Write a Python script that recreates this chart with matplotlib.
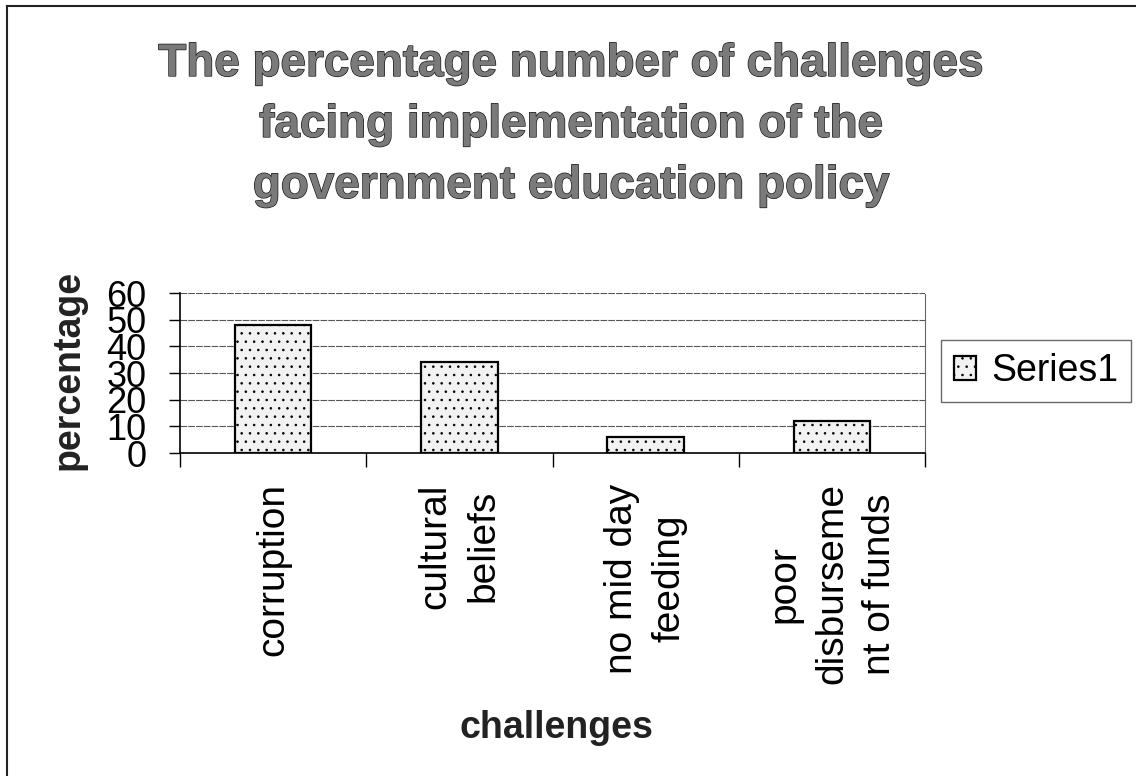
"""
Bar chart of challenges facing implementation of the education policy.
"""

import matplotlib
matplotlib.use("Agg")
import matplotlib.pyplot as plt
import matplotlib.patheffects as pe
from matplotlib.lines import Line2D

plt.rcParams['font.family'] = ['Liberation Sans', 'DejaVu Sans']
plt.rcParams['hatch.color'] = '#c0c0c0'
plt.rcParams['hatch.linewidth'] = 0.6

challenges = ["corruption", "cultural\nbeliefs", "no mid day\nfeeding",
              "poor\ndisburseme\nnt of funds"]
percentages = [48, 34, 6, 12]
y_ticks = [0, 10, 20, 30, 40, 50, 60]

fig = plt.figure(figsize=(11.36, 7.76), dpi=100)
ax = fig.add_axes([0.1585, 0.4162, 0.6558, 0.2062])

x = range(len(challenges))
bars = ax.bar(x, percentages, width=0.41, color='#f2f2f2',
              edgecolor='black', linewidth=1.6, label="Series1", zorder=3)
for b in bars:
    b.set_hatch('..')

ax.set_xlim(-0.5, len(challenges) - 0.5)
ax.set_ylim(0, 60)
ax.set_yticks(y_ticks)
ax.set_yticklabels([str(v) for v in y_ticks], fontsize=26)
ax.yaxis.grid(True, color='#555555', linewidth=0.8, linestyle=(0, (6, 1)))
ax.set_axisbelow(True)

ax.set_xticks([i - 0.5 for i in range(len(challenges) + 1)])
ax.set_xticklabels([])
ax.tick_params(axis='x', length=10, width=1, direction='out')
ax.tick_params(axis='y', length=8, width=1, direction='out', pad=16)
for i, lab in enumerate(challenges):
    ax.text(i, -0.19, lab, transform=ax.get_xaxis_transform(), rotation=90,
            ha='center', va='top', multialignment='center', fontsize=28,
            linespacing=1.42)

ax.spines['top'].set_visible(False)
ax.spines['right'].set_color('#666666')
ax.spines['right'].set_linestyle((0, (3, 1)))
ax.spines['left'].set_linewidth(1.2)
ax.spines['bottom'].set_linewidth(1.2)

title = fig.text(0.503, 0.839, "The percentage number of challenges\n"
                 "facing implementation of the\ngovernment education policy",
                 ha='center', va='center', fontsize=33, fontweight='bold',
                 color='#7a7a7a', linespacing=1.5)
title.set_path_effects([pe.withStroke(linewidth=1.0, foreground='#1a1a1a')])
fig.text(0.060, 0.523, "percentage", rotation=90, ha='center', va='center',
         fontsize=27, fontweight='bold', color='#222222')
fig.text(0.490, 0.062, "challenges", ha='center', va='center',
         fontsize=27, fontweight='bold', color='#222222')

leg = fig.legend(loc='center left', bbox_to_anchor=(0.828, 0.522),
                 fontsize=27, frameon=True, fancybox=False, edgecolor='#444444',
                 handlelength=0.6, handleheight=0.6, handletextpad=0.4,
                 borderpad=0.35, borderaxespad=0.0)
leg.get_frame().set_linewidth(1.0)

# scanned page edge: top and left only
fig.add_artist(Line2D([0.006, 1.0], [0.992, 0.992], transform=fig.transFigure,
                      color='#222222', linewidth=1.5))
fig.add_artist(Line2D([0.006, 0.006], [0.0, 0.992], transform=fig.transFigure,
                      color='#222222', linewidth=1.5))

fig.savefig("out.png", dpi=100)
